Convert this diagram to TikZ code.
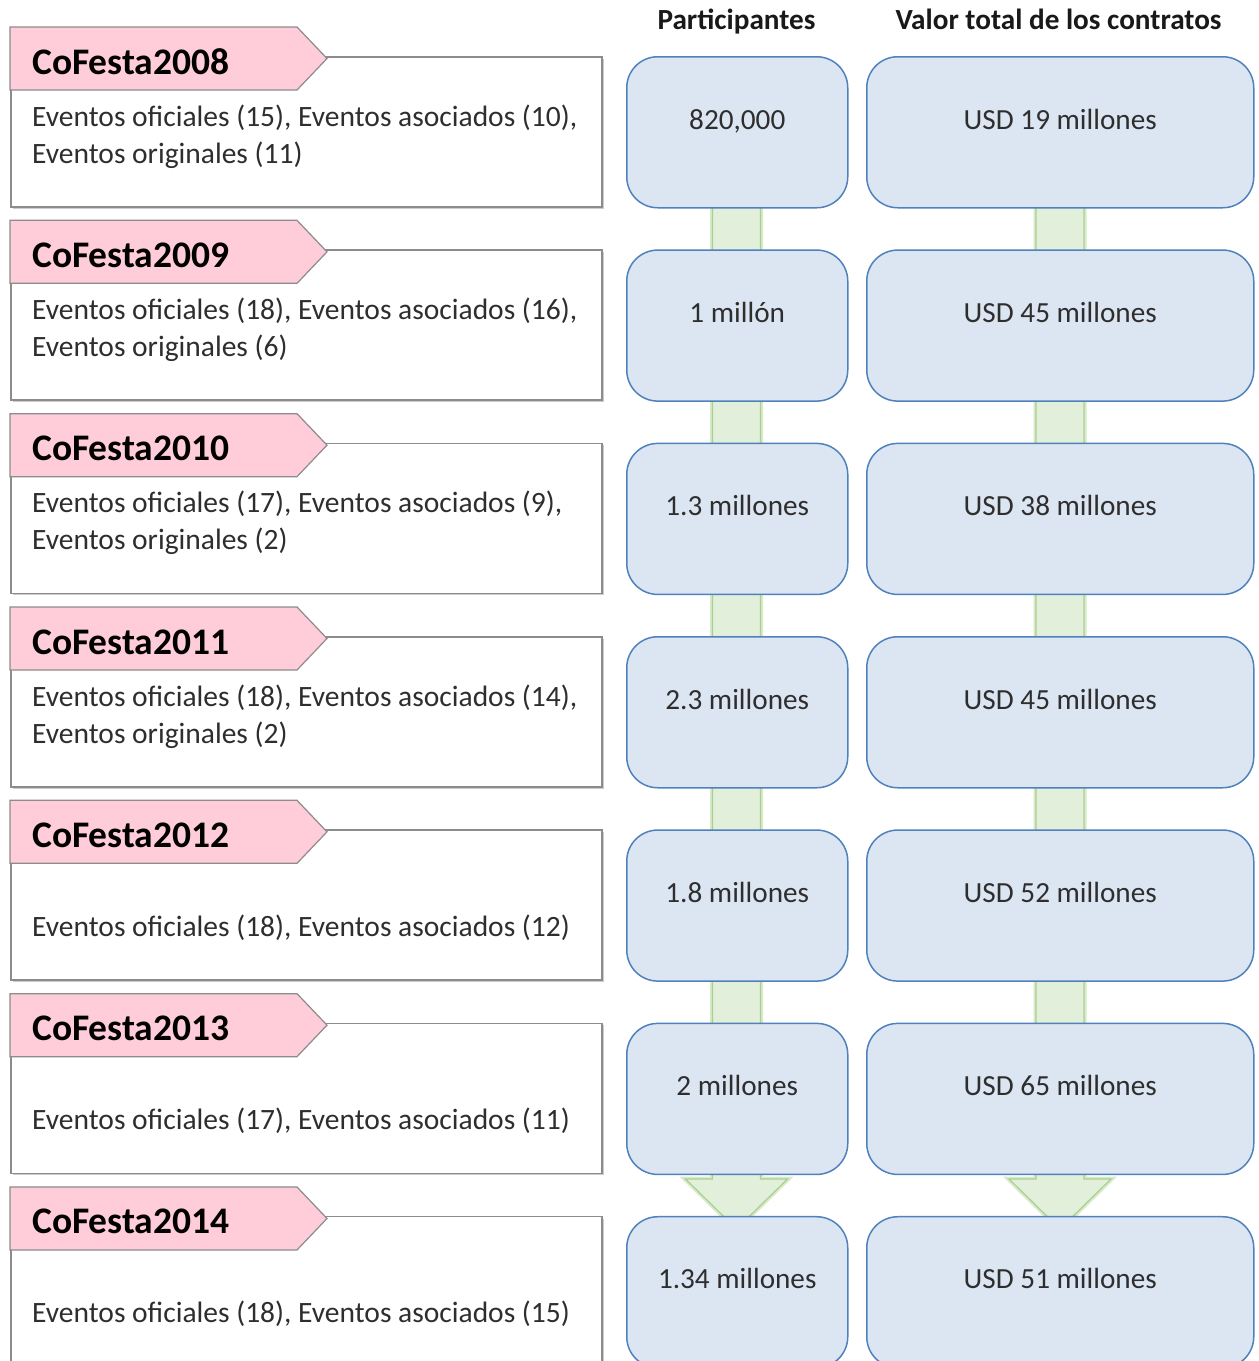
\documentclass[tikz,border=0pt]{standalone}
\usepackage{fontspec}
\setmainfont{Carlito}
\definecolor{pinkf}{HTML}{FFCCD9}
\definecolor{grayb}{HTML}{8C8C8C}
\definecolor{bluef}{HTML}{DCE6F2}
\definecolor{blueb}{HTML}{4F81BD}
\definecolor{greenf}{HTML}{E2EFDA}
\definecolor{greenb}{HTML}{A9D18E}
\definecolor{txt}{HTML}{2E2E2E}
\tikzset{
  whitebox/.style={draw=grayb, line width=1.5pt, fill=white, rectangle, inner sep=0pt, anchor=north west},
  shadowbox/.style={fill=black!20, rectangle, inner sep=0pt, anchor=north west},
  pinklabel/.style={draw=grayb, line width=1.2pt, fill=pinkf},
  bluebox/.style={draw=blueb, line width=1.5pt, fill=bluef, rectangle, rounded corners=31pt, inner sep=0pt, anchor=north west, minimum height=151pt},
  greenarrow/.style={draw=greenb, line width=1.2pt, fill=greenf},
  greenglow/.style={draw=greenb!45, line width=5pt},
  titletext/.style={font=\fontsize{37.5}{44}\selectfont\bfseries, text=black, inner sep=0pt, anchor=base west},
  bodytext/.style={font=\fontsize{29.5}{35}\selectfont, text=txt, inner sep=0pt, anchor=base west},
  valtext/.style={font=\fontsize{29.2}{35}\selectfont, text=txt, inner sep=0pt, anchor=base},
  headtext/.style={font=\fontsize{29.2}{35}\selectfont\bfseries, text=black!90, inner sep=0pt, anchor=base}
}
\begin{document}
\begin{tikzpicture}[x=1pt, y=-1pt]
\clip (0,0) rectangle (1259,1361);
\fill[white] (0,0) rectangle (1259,1361);
% headers
\node[headtext] (H1) at (736.5,29) {Participantes};
\node[headtext] (H2) at (1058.5,29) {Valor total de los contratos};
% green arrows behind boxes
\foreach \cx in {736.5,1060}{
  \path[greenglow] (\cx-24,131) -- (\cx-24,1179) -- (\cx-51,1179) -- (\cx,1229) -- (\cx+51,1179) -- (\cx+24,1179) -- (\cx+24,131) -- cycle;
  \path[greenarrow] (\cx-24,131) -- (\cx-24,1179) -- (\cx-51,1179) -- (\cx,1229) -- (\cx+51,1179) -- (\cx+24,1179) -- (\cx+24,131) -- cycle;
}
\foreach \i/\yr/\la/\lb/\p/\c in {
 0/2008/{Eventos oficiales (15), Eventos asociados (10),}/{Eventos originales (11)}/{820,000}/{USD 19 millones},
 1/2009/{Eventos oficiales (18), Eventos asociados (16),}/{Eventos originales (6)}/{1 millón}/{USD 45 millones},
 2/2010/{Eventos oficiales (17), Eventos asociados (9),}/{Eventos originales (2)}/{1.3 millones}/{USD 38 millones},
 3/2011/{Eventos oficiales (18), Eventos asociados (14),}/{Eventos originales (2)}/{2.3 millones}/{USD 45 millones},
 4/2012/{}/{Eventos oficiales (18), Eventos asociados (12)}/{1.8 millones}/{USD 52 millones},
 5/2013/{}/{Eventos oficiales (17), Eventos asociados (11)}/{2 millones}/{USD 65 millones},
 6/2014/{}/{Eventos oficiales (18), Eventos asociados (15)}/{1.34 millones}/{USD 51 millones}}{
  \pgfmathsetmacro\t{56+193.33*\i}
  \node[shadowbox, minimum width=591pt, minimum height=150pt] (S\i) at (12.5,\t+2.5) {};
  \node[whitebox, minimum width=591pt, minimum height=150pt] (W\i) at (10,\t) {};
  \path[pinklabel] (10,\t-29) -- (297,\t-29) -- (327,\t+2.5) -- (297,\t+34) -- (10,\t+34) -- cycle;
  \node[titletext] (T\i) at (32,\t+18) {CoFesta\yr};
  \ifnum\i<4
    \node[bodytext] (A\i) at (32,\t+70) {\la};
  \fi
  \node[bodytext] (B\i) at (32,\t+107) {\lb};
  \node[bluebox, minimum width=221pt] (P\i) at (626,\t) {};
  \node[valtext] (PT\i) at (P\i.north |- 0,\t+73) {\p};
  \node[bluebox, minimum width=387pt] (C\i) at (866,\t) {};
  \node[valtext] (CT\i) at (C\i.north |- 0,\t+73) {\c};
}
\end{tikzpicture}
\end{document}
